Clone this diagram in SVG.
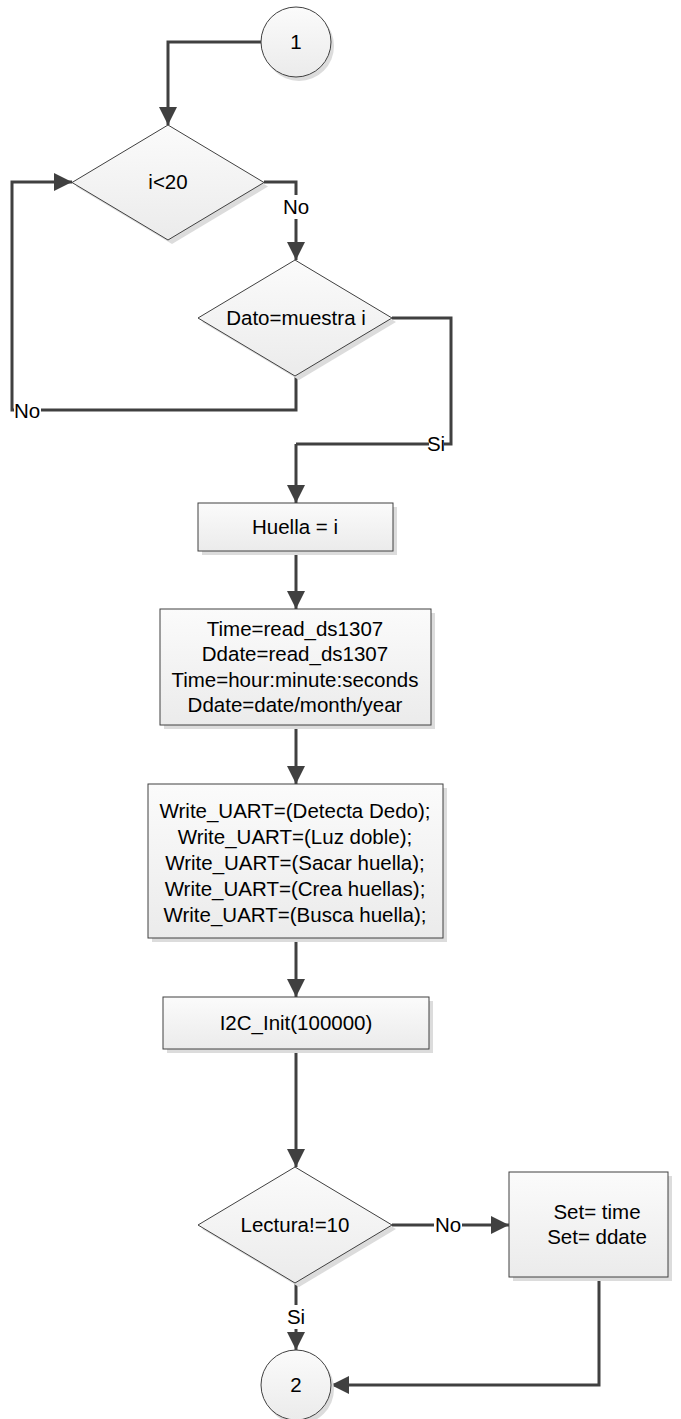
<svg xmlns="http://www.w3.org/2000/svg" width="681" height="1419" viewBox="0 0 681 1419">
  <defs>
    <linearGradient id="fillGrad" x1="0" y1="0" x2="0" y2="1">
      <stop offset="0" stop-color="#fbfbfb"/>
      <stop offset="1" stop-color="#ebebeb"/>
    </linearGradient>
    <marker id="arrow" viewBox="0 0 18 18" refX="18" refY="9" markerWidth="18" markerHeight="18" markerUnits="userSpaceOnUse" orient="auto">
      <path d="M0,0 L18,9 L0,18 Z" fill="#404040"/>
    </marker>
    <style>
      .shape { fill: url(#fillGrad); stroke: #404040; stroke-width: 1; }
      .shadow { fill: #dcdcdc; stroke: none; }
      .edge { fill: none; stroke: #404040; stroke-width: 3; }
      .arrow { marker-end: url(#arrow); }
      .txt { font-family: "Liberation Sans", Arial, sans-serif; font-size: 20.5px; fill: #000; text-anchor: middle; }
      .lblbg { fill: #ffffff; }
    </style>
  </defs>
  <rect width="681" height="1419" fill="#ffffff"/>

  <!-- connectors -->
  <g id="connectors">
    <path class="edge arrow" d="M261,42 H168 V125"/>
    <path class="edge arrow" d="M264,182 H296 V260"/>
    <path class="edge arrow" d="M296,376 V410 H12 V182 H72"/>
    <path class="edge" d="M392,318 H451 V444 H296"/>
    <path class="edge arrow" d="M296,444 V503"/>
    <path class="edge arrow" d="M296,551 V609"/>
    <path class="edge arrow" d="M296,725 V784"/>
    <path class="edge arrow" d="M296,938 V997"/>
    <path class="edge arrow" d="M296,1049 V1167"/>
    <path class="edge arrow" d="M392,1225 H509"/>
    <path class="edge arrow" d="M296,1283 V1350"/>
    <path class="edge arrow" d="M599,1277 V1385 H331"/>

    <!-- connector labels -->
    <rect class="lblbg" x="282" y="195" width="28" height="24"/>
    <text class="txt" x="296" y="214">No</text>
    <rect class="lblbg" x="14" y="399" width="27" height="24"/>
    <text class="txt" x="27" y="418">No</text>
    <rect class="lblbg" x="429" y="432" width="15" height="24"/>
    <text class="txt" x="436" y="451">Si</text>
    <rect class="lblbg" x="434" y="1213" width="28" height="24"/>
    <text class="txt" x="448" y="1232">No</text>
    <rect class="lblbg" x="288" y="1305" width="16" height="24"/>
    <text class="txt" x="296" y="1324">Si</text>
  </g>

  <!-- connector 1 -->
  <g id="node-c1">
    <circle class="shadow" cx="299" cy="46" r="35"/>
    <circle class="shape" cx="296" cy="42" r="35"/>
    <text class="txt" x="296" y="49">1</text>
  </g>

  <!-- decision i<20 -->
  <g id="node-d1">
    <polygon class="shadow" points="172,129 268,186.5 172,244 76,186.5"/>
    <polygon class="shape" points="168,125 264,182.5 168,240 72,182.5"/>
    <text class="txt" x="168" y="189">i&lt;20</text>
  </g>

  <!-- decision Dato=muestra i -->
  <g id="node-d2">
    <polygon class="shadow" points="299,264 396,322 299,380 202,322"/>
    <polygon class="shape" points="295,260 392,318 295,376 198,318"/>
    <text class="txt" x="296" y="325">Dato=muestra i</text>
  </g>

  <!-- process Huella = i -->
  <g id="node-p1">
    <rect class="shadow" x="202" y="507" width="195" height="48"/>
    <rect class="shape" x="198" y="503" width="195" height="48"/>
    <text class="txt" x="295" y="534">Huella = i</text>
  </g>

  <!-- process read time / date -->
  <g id="node-p2">
    <rect class="shadow" x="164" y="613" width="271" height="116"/>
    <rect class="shape" x="160" y="609" width="271" height="116"/>
    <text class="txt" x="295" y="636">Time=read_ds1307</text>
    <text class="txt" x="295" y="661">Ddate=read_ds1307</text>
    <text class="txt" x="295" y="687">Time=hour:minute:seconds</text>
    <text class="txt" x="295" y="712">Ddate=date/month/year</text>
  </g>

  <!-- process UART writes -->
  <g id="node-p3">
    <rect class="shadow" x="152" y="788" width="295" height="154"/>
    <rect class="shape" x="148" y="784" width="295" height="154"/>
    <text class="txt" x="295" y="818">Write_UART=(Detecta Dedo);</text>
    <text class="txt" x="295" y="844">Write_UART=(Luz doble);</text>
    <text class="txt" x="295" y="870">Write_UART=(Sacar huella);</text>
    <text class="txt" x="295" y="896">Write_UART=(Crea huellas);</text>
    <text class="txt" x="295" y="922">Write_UART=(Busca huella);</text>
  </g>

  <!-- process I2C init -->
  <g id="node-p4">
    <rect class="shadow" x="167" y="1001" width="266" height="52"/>
    <rect class="shape" x="163" y="997" width="266" height="52"/>
    <text class="txt" x="296" y="1030">I2C_Init(100000)</text>
  </g>

  <!-- decision Lectura!=10 -->
  <g id="node-d3">
    <polygon class="shadow" points="299,1171 396,1229 299,1287 202,1229"/>
    <polygon class="shape" points="295,1167 392,1225 295,1283 198,1225"/>
    <text class="txt" x="295" y="1232">Lectura!=10</text>
  </g>

  <!-- process set time / date -->
  <g id="node-p5">
    <rect class="shadow" x="513" y="1176" width="159" height="105"/>
    <rect class="shape" x="509" y="1172" width="159" height="105"/>
    <text class="txt" x="597" y="1219">Set= time</text>
    <text class="txt" x="597" y="1244">Set= ddate</text>
  </g>

  <!-- connector 2 -->
  <g id="node-c2">
    <circle class="shadow" cx="299" cy="1389" r="35"/>
    <circle class="shape" cx="296" cy="1385" r="35"/>
    <text class="txt" x="296" y="1392">2</text>
  </g>
</svg>
